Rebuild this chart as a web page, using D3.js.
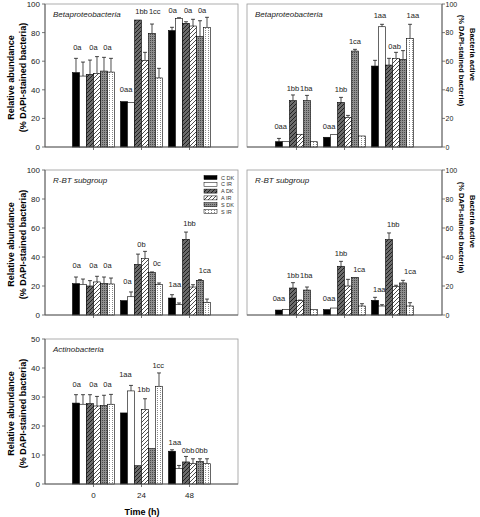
<!DOCTYPE html>
<html><head><meta charset="utf-8">
<script src="https://cdn.jsdelivr.net/npm/d3@7"></script>
<style>
body{margin:0;background:#fff;}
svg{display:block;font-family:"Liberation Sans",Arial,sans-serif;}
</style></head>
<body><svg id="c" width="480" height="517"></svg>
<script>
const categories = ["0","24","48"];
const series = ["C DK","C IR","A DK","A IR","S DK","S IR"];

// values[group][series]
const betaAbund = [[52,49.6,50.8,51.5,53.1,52.4],[31.7,31.2,88.8,60.6,79.5,48.3],[81.4,90,86.5,84.6,77.2,83.7]];
const betaAbundErr = [[10,9.8,10,11.7,9.6,9.6],[0,0,0,5.6,6.5,6.7],[2.3,0.4,1.1,4.7,11.1,7]];
const betaAbundLabels = [[0,0.7,67.8,"0a"],[0,3.0,67.8,"0a"],[0,5.0,67.8,"0a"],
  [1,0.8,38.2,"0aa"],[1,3.0,93,"1bb"],[1,4.9,93,"1cc"],
  [2,0.6,93.5,"0a"],[2,2.8,93.5,"0a"],[2,4.8,93.5,"0a"]];

const betaActive = [[3.7,3.7,32.4,8.9,32.4,3.7],[6.8,8.6,31.2,20.7,67.1,7.7],[56.6,84.1,57.3,62,61.3,76]];
const betaActiveErr = [[2.3,0,4,0,3.7,0],[0,0,3.5,1.4,1.2,0],[4,1.7,4.7,4.2,6.1,9.8]];
const betaActiveLabels = [[0,0.75,12.6,"0aa"],[0,2.5,39,"1bb"],[0,4.4,39,"1ba"],
  [1,0.8,12.6,"0aa"],[1,2.5,38.2,"1bb"],[1,4.5,72,"1ca"],
  [2,1.2,90.4,"1aa"],[2,3.3,68.5,"0ab"],[2,5.9,90.4,"1aa"]];

const rbtAbund = [[21.6,21.1,20,22.8,21.8,21.4],[9.9,12.6,34.9,39,29.2,20.9],[11.7,7.1,52.2,19.3,23.9,8.7]];
const rbtAbundErr = [[4.6,3.7,3.7,3.9,4.4,4.1],[0,3.3,7.1,4.9,0.5,1.2],[2.3,1.2,5,1.6,0.5,2.3]];
const rbtAbundLabels = [[0,0.6,32.2,"0a"],[0,3.0,32.2,"0a"],[0,5.0,32.2,"0a"],
  [1,1.0,21.6,"0a"],[1,3.0,46.9,"0b"],[1,5.2,33.6,"0c"],
  [2,0.9,19.3,"1aa"],[2,3.0,61.1,"1bb"],[2,5.2,29,"1ca"]];

const rbtActive = [[3.4,3.7,18.6,9.9,17.2,3.9],[3.7,4.8,33.6,20,26,6.2],[10.1,6.2,52,19.5,22.1,6.2]];
const rbtActiveErr = [[0,0,3.7,0.4,2.1,0],[0,0,3.4,4.6,0,1.6],[2.1,0.9,4.6,1,1.8,2.3]];
const rbtActiveLabels = [[0,0.5,9.4,"0aa"],[0,2.5,25.5,"1bb"],[0,4.4,25.5,"1ba"],
  [1,0.8,9.4,"0aa"],[1,2.5,40.9,"1bb"],[1,5.1,29.4,"1ca"],
  [2,1.1,15.6,"1aa"],[2,3.1,60.7,"1bb"],[2,5.5,28.5,"1ca"]];

const actAbund = [[27.9,27.5,27.7,26.9,27.1,27.5],[24.5,32.1,6.3,25.7,12.2,33.7],[11.3,5.3,7.6,7,7.8,7]];
const actAbundErr = [[2.9,3.3,3.1,3.3,3.5,3.4],[0,1.9,0,3.7,0,4.6],[0.5,1.1,1.9,1.7,0.9,1.7]];
const actAbundLabels = [[0,0.6,33.4,"0a"],[0,3.0,33.4,"0a"],[0,5.0,33.4,"0a"],
  [1,0.7,36.9,"1aa"],[1,3.3,31.7,"1bb"],[1,5.4,40,"1cc"],
  [2,0.9,13.6,"1aa"],[2,2.8,10.7,"0bb"],[2,4.7,10.7,"0bb"]];

const ticks100 = [0,20,40,60,80,100];
const ticks50 = [0,10,20,30,40,50];

const svg = d3.select("#c");
const defs = svg.append("defs");
function hatch(id, bg){
  const p = defs.append("pattern").attr("id",id).attr("patternUnits","userSpaceOnUse").attr("width",4).attr("height",4);
  p.append("rect").attr("width",4).attr("height",4).attr("fill",bg);
  p.append("path").attr("d","M-1,1 l2,-2 M0,4 l4,-4 M3,5 l2,-2").attr("stroke","#000").attr("stroke-width",0.7);
}
hatch("hd","#6b6b6b"); hatch("hl","#fff");
{
  const p = defs.append("pattern").attr("id","dd").attr("patternUnits","userSpaceOnUse").attr("width",2).attr("height",2);
  p.append("rect").attr("width",2).attr("height",2).attr("fill","#8e8e8e");
  p.append("rect").attr("width",1).attr("height",1).attr("fill","#4a4a4a");
  const q = defs.append("pattern").attr("id","dl").attr("patternUnits","userSpaceOnUse").attr("width",3).attr("height",2);
  q.append("rect").attr("width",3).attr("height",2).attr("fill","#fff");
  q.append("rect").attr("x",1).attr("width",1).attr("height",1).attr("fill","#8a8a8a");
}
const fills = ["#000","#fff","url(#hd)","url(#hl)","url(#dd)","url(#dl)"];

const barW = 7;
function panel(o){
  const g = svg.append("g");
  const x = d3.scaleBand().domain(categories).range([o.x0,o.x1]).paddingOuter(o.pad).paddingInner(0);
  const inner = d3.scaleBand().domain(series).range([0, barW*series.length]);
  const off = (x.bandwidth() - barW*series.length)/2;
  const y = d3.scaleLinear().domain([0,o.max]).range([o.y1,o.y0]);
  // frame
  g.append("rect").attr("x",o.x0).attr("y",o.y0).attr("width",o.x1-o.x0).attr("height",o.y1-o.y0)
    .attr("fill","none").attr("stroke","#9a9a9a").attr("stroke-width",0.8);
  // bars
  o.vals.forEach((row,gi)=>{
    row.forEach((v,si)=>{
      const bx = x(categories[gi]) + off + inner(series[si]);
      const e = o.err[gi][si];
      if(e>0){
        const cx = bx + barW/2;
        g.append("line").attr("x1",cx).attr("x2",cx).attr("y1",y(v)).attr("y2",y(v+e)).attr("stroke","#000").attr("stroke-width",0.7);
        g.append("line").attr("x1",cx-2).attr("x2",cx+2).attr("y1",y(v+e)).attr("y2",y(v+e)).attr("stroke","#000").attr("stroke-width",0.7);
      }
      g.append("rect").attr("x",bx).attr("y",y(v)).attr("width",barW).attr("height",y(0)-y(v))
        .attr("fill",fills[si]).attr("stroke","#000").attr("stroke-width",0.6);
    });
  });
  // labels
  o.labels.forEach(l=>{
    const lx = x(categories[l[0]]) + off + inner.step()*l[1];
    g.append("text").attr("x",lx).attr("y",y(l[2])).attr("text-anchor","middle")
      .attr("font-size",7.5).attr("fill","#222").text(l[3]);
  });
  // x axis
  g.append("line").attr("x1",o.x0).attr("x2",o.x1).attr("y1",o.y1).attr("y2",o.y1).attr("stroke","#555").attr("stroke-width",0.9);
  categories.forEach(c=>{
    const cx = x(c)+x.bandwidth()/2;
    g.append("line").attr("x1",cx).attr("x2",cx).attr("y1",o.y1).attr("y2",o.y1+3).attr("stroke","#555").attr("stroke-width",0.8);
    if(o.xlabels) g.append("text").attr("x",cx).attr("y",o.y1+14).attr("text-anchor","middle").attr("font-size",8).attr("fill","#222").text(c);
  });
  // y axis
  const yt = o.max===50?ticks50:ticks100;
  if(o.side==="left"){
    g.append("line").attr("x1",o.x0).attr("x2",o.x0).attr("y1",o.y0).attr("y2",o.y1).attr("stroke","#555").attr("stroke-width",0.9);
    yt.forEach(t=>{
      g.append("line").attr("x1",o.x0-3).attr("x2",o.x0).attr("y1",y(t)).attr("y2",y(t)).attr("stroke","#555").attr("stroke-width",0.8);
      g.append("text").attr("x",o.x0-5).attr("y",y(t)+3).attr("text-anchor","end").attr("font-size",8).attr("fill","#222").text(t);
    });
    const cy = (o.y0+o.y1)/2 + 2;
    g.append("text").attr("transform",`translate(14,${cy}) rotate(-90)`).attr("text-anchor","middle")
      .attr("font-size",9).attr("font-weight","bold").text("Relative abundance");
    g.append("text").attr("transform",`translate(26,${cy}) rotate(-90)`).attr("text-anchor","middle")
      .attr("font-size",9).attr("font-weight","bold").text("(% DAPI-stained bacteria)");
  } else {
    g.append("line").attr("x1",o.x1).attr("x2",o.x1).attr("y1",o.y0).attr("y2",o.y1).attr("stroke","#555").attr("stroke-width",0.9);
    yt.forEach(t=>{
      g.append("line").attr("x1",o.x1).attr("x2",o.x1+3).attr("y1",y(t)).attr("y2",y(t)).attr("stroke","#555").attr("stroke-width",0.8);
      g.append("text").attr("x",o.x1+3.5).attr("y",y(t)+2.5).attr("text-anchor","start").attr("font-size",7).attr("fill","#222").text(t);
    });
    const mid = (o.y0+o.y1)/2;
    g.append("text").attr("transform",`translate(458.5,${mid-15}) rotate(90)`).attr("text-anchor","middle")
      .attr("font-size",7.5).attr("font-weight","bold").text("(% DAPI-stained bacteria)");
    g.append("text").attr("transform",`translate(470,${mid-21}) rotate(90)`).attr("text-anchor","middle")
      .attr("font-size",7.5).attr("font-weight","bold").text("Bacteria active");
  }
  g.append("text").attr("x",o.x0+8).attr("y",o.y0+13).attr("font-size",8).attr("font-style","italic").attr("fill","#222").text(o.title);
  return {g,x,y};
}

const L = {x0:45,x1:238,pad:0.51}, R = {x0:247,x1:442,pad:0.53};
panel({...L,y0:4,y1:147,max:100,vals:betaAbund,err:betaAbundErr,labels:betaAbundLabels,side:"left",title:"Betaproteobacteria"});
panel({...R,y0:4,y1:147,max:100,vals:betaActive,err:betaActiveErr,labels:betaActiveLabels,side:"right",title:"Betaproteobacteria"});
panel({...L,y0:170,y1:315,max:100,vals:rbtAbund,err:rbtAbundErr,labels:rbtAbundLabels,side:"left",title:"R-BT subgroup"});
panel({...R,y0:170,y1:315,max:100,vals:rbtActive,err:rbtActiveErr,labels:rbtActiveLabels,side:"right",title:"R-BT subgroup"});
panel({...L,y0:339,y1:484,max:50,vals:actAbund,err:actAbundErr,labels:actAbundLabels,side:"left",title:"Actinobacteria",xlabels:true});

svg.append("text").attr("x",142).attr("y",515).attr("text-anchor","middle").attr("font-size",9).attr("font-weight","bold").text("Time (h)");

// legend
const lg = svg.append("g");
series.forEach((s,i)=>{
  const ly = 175.5 + i*6.8;
  lg.append("rect").attr("x",204).attr("y",ly).attr("width",13).attr("height",4).attr("fill",fills[i]).attr("stroke","#000").attr("stroke-width",0.5);
  lg.append("text").attr("x",221).attr("y",ly+4).attr("font-size",5.5).attr("fill","#333").text(s);
});
</script></body></html>
